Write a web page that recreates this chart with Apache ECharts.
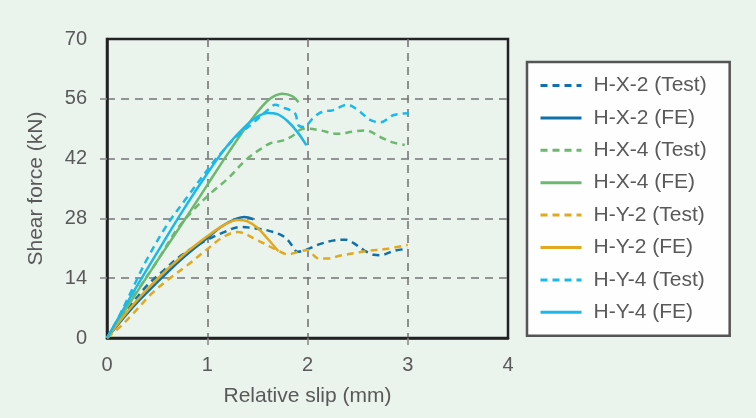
<!DOCTYPE html>
<html>
<head>
<meta charset="utf-8">
<script src="https://cdn.jsdelivr.net/npm/echarts@6/dist/echarts.min.js"></script>
<style>
html,body{margin:0;padding:0;background:#EAF3EC;}
#chart{width:756px;height:418px;}
</style>
</head>
<body>
<div id="chart"></div>
<script>
// Axis ticks
const xTicks = [0, 1, 2, 3, 4];
const yTicks = [0, 14, 28, 42, 56, 70];
const xInnerTicks = [1, 2, 3];
const yInnerTicks = [14, 28, 42, 56];

// Series names (legend order)
const seriesNames = ['H-X-2 (Test)', 'H-X-2 (FE)', 'H-X-4 (Test)', 'H-X-4 (FE)',
                     'H-Y-2 (Test)', 'H-Y-2 (FE)', 'H-Y-4 (Test)', 'H-Y-4 (FE)'];

// [relative slip (mm), shear force (kN)]
const hx2Test = [[0,0],[0.2,6.5],[0.4,12.3],[0.55,15.5],[0.75,19.5],[1.0,23],[1.15,24.6],[1.33,26],[1.5,25.6],[1.6,25.2],[1.73,24.2],[1.8,23],[1.85,21.5],[1.9,20.2],[2.0,20.8],[2.1,21.8],[2.25,22.8],[2.38,23],[2.46,22.2],[2.56,20.6],[2.66,19.5],[2.73,19.4],[2.86,20.4],[3.0,20.9]];
const hx2FE = [[0,0],[0.25,7],[0.5,13],[0.75,18.6],[1.0,23.4],[1.15,26.2],[1.27,27.7],[1.37,28.3],[1.46,27.8]];
const hx4Test = [[0,0],[0.15,5.5],[0.3,11],[0.5,18],[0.7,25.5],[0.86,29.9],[1.03,33.8],[1.2,37.2],[1.4,42],[1.55,44.5],[1.63,45.6],[1.75,46.2],[1.85,47.3],[1.93,48.8],[2.0,49],[2.13,48.6],[2.3,47.8],[2.45,48.3],[2.58,48.6],[2.73,47],[2.85,45.8],[2.97,45.2]];
const hx4FE = [[0,0],[0.25,9],[0.5,18],[0.75,26.8],[1.0,35.8],[1.2,43],[1.4,49.8],[1.55,54.3],[1.65,56.4],[1.75,57.2],[1.85,56.6],[1.91,55.2]];
const hy2Test = [[0,0],[0.13,2.6],[0.26,5.7],[0.45,10.5],[0.6,13.5],[0.8,17],[1.0,20.8],[1.15,23.5],[1.3,24.8],[1.5,22.9],[1.7,20.5],[1.8,19.6],[1.93,20.3],[2.0,20.6],[2.1,18.7],[2.2,18.6],[2.33,19.3],[2.5,20],[2.6,20.4],[2.8,20.9],[3.0,21.8]];
const hy2FE = [[0,0],[0.25,7.5],[0.5,13.8],[0.75,19.2],[1.0,23.8],[1.15,26.2],[1.3,27.6],[1.4,27.3],[1.5,25.8],[1.6,23.3],[1.71,20.3]];
const hy4Test = [[0,0],[0.11,4.6],[0.26,11.8],[0.4,18.5],[0.6,26.5],[0.8,33],[1.0,39.3],[1.1,42.3],[1.3,47.3],[1.46,50.4],[1.6,53.3],[1.68,54.6],[1.75,54],[1.83,53.3],[1.88,52.4],[1.91,49.8],[1.96,49.4],[2.06,51.6],[2.15,53],[2.25,53.3],[2.4,54.6],[2.5,53.4],[2.63,51],[2.73,50.5],[2.86,52.2],[3.01,52.6]];
const hy4FE = [[0,0],[0.25,10.2],[0.5,20],[0.75,29.6],[1.0,38.5],[1.2,45],[1.4,50],[1.5,51.8],[1.6,52.7],[1.7,52.4],[1.8,50.8],[1.9,48.2],[1.99,45.1]];

const seriesData = [hx2Test, hx2FE, hx4Test, hx4FE, hy2Test, hy2FE, hy4Test, hy4FE];
const colors = ['#1170AA', '#1170AA', '#6CB86E', '#6CB86E', '#E0A920', '#E0A920', '#1BB9E9', '#1BB9E9'];

const FONT = 'Liberation Sans, Arial, sans-serif';
const chart = echarts.init(document.getElementById('chart'), null, {renderer: 'canvas'});

const series = seriesNames.map((name, i) => ({
  name: name,
  type: 'line',
  data: seriesData[i],
  smooth: 0.35,
  symbol: 'none',
  color: colors[i],
  lineStyle: {
    color: colors[i],
    width: 2.5,
    type: name.indexOf('Test') >= 0 ? [7, 5] : 'solid'
  },
  z: 3
}));

chart.setOption({
  backgroundColor: '#EAF3EC',
  animation: false,
  grid: {
    left: 107, top: 39, right: 248, bottom: 80,
    show: true, borderColor: '#222', borderWidth: 2.5, backgroundColor: 'transparent'
  },
  xAxis: {
    type: 'value', min: xTicks[0], max: xTicks[xTicks.length - 1], interval: 1,
    name: 'Relative slip (mm)', nameLocation: 'middle', nameGap: 48,
    nameTextStyle: {fontFamily: FONT, fontSize: 21, color: '#595959'},
    axisLine: {show: true, lineStyle: {color: '#222', width: 2.5}},
    axisTick: {show: true, customValues: xInnerTicks, length: 7, lineStyle: {color: '#888', width: 1.5}},
    axisLabel: {fontFamily: FONT, fontSize: 20, color: '#595959', margin: 17},
    splitLine: {show: true, lineStyle: {color: '#777', width: 1.6, type: [8, 6]}}
  },
  yAxis: {
    type: 'value', min: yTicks[0], max: yTicks[yTicks.length - 1], interval: 14,
    name: 'Shear force (kN)', nameLocation: 'middle', nameGap: 60, nameRotate: 90,
    nameTextStyle: {fontFamily: FONT, fontSize: 21, color: '#595959'},
    axisLine: {show: true, lineStyle: {color: '#222', width: 2.5}},
    axisTick: {show: true, customValues: yInnerTicks, length: 7, lineStyle: {color: '#888', width: 1.5}},
    axisLabel: {fontFamily: FONT, fontSize: 20, color: '#595959', margin: 20},
    splitLine: {show: true, lineStyle: {color: '#777', width: 1.6, type: [8, 6]}}
  },
  legend: {
    orient: 'vertical',
    left: 527, top: 62,
    data: seriesNames,
    itemWidth: 41, itemHeight: 14, itemGap: 11.4,
    padding: [13, 23, 13, 12],
    backgroundColor: '#FDFEFD',
    borderColor: '#555', borderWidth: 2.5,
    itemStyle: {opacity: 0},
    lineStyle: {width: 3},
    textStyle: {fontFamily: FONT, fontSize: 21, color: '#595959', padding: [0, 0, 0, 7]}
  },
  series: series
});
</script>
</body>
</html>
